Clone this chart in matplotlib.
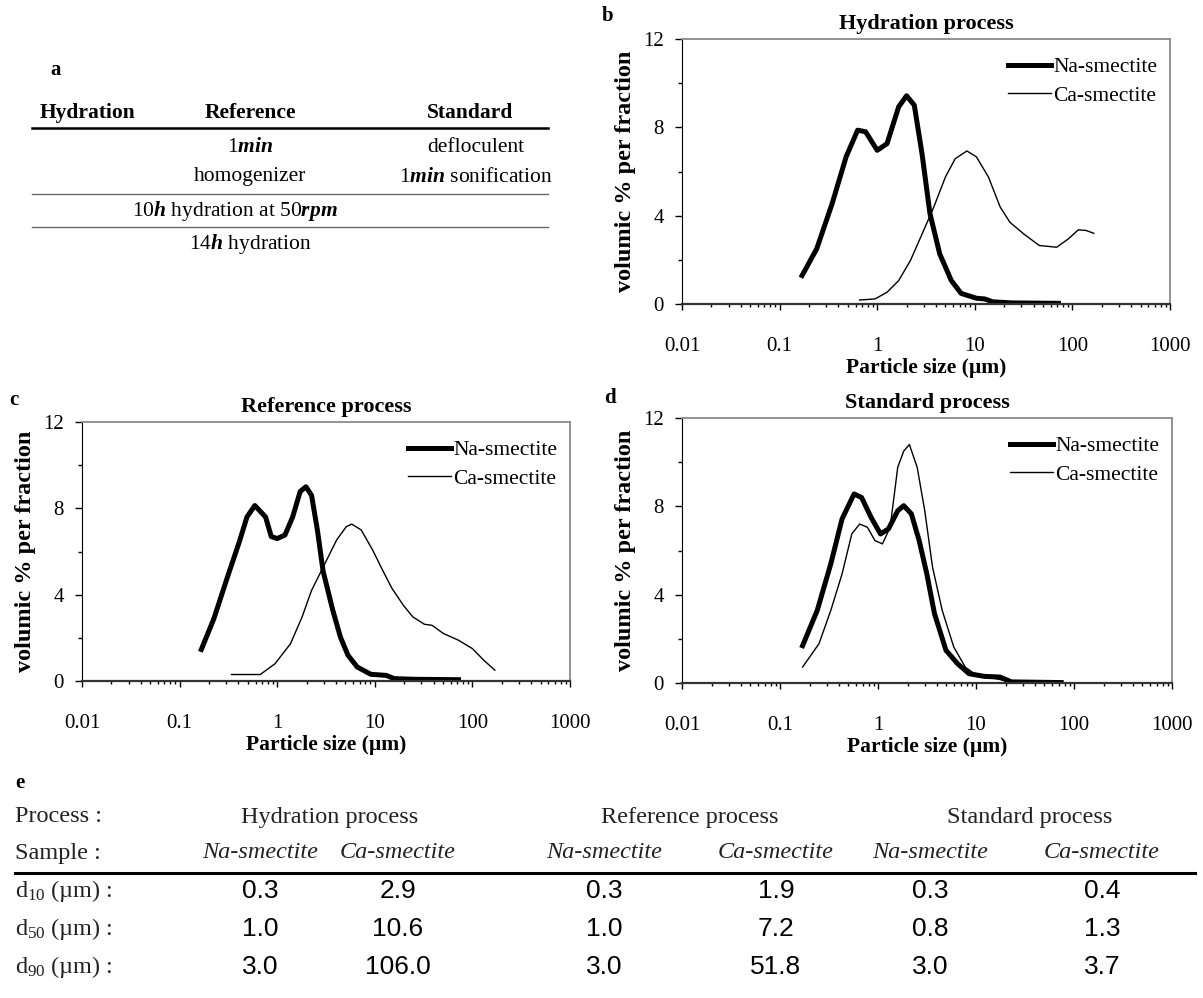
import matplotlib
matplotlib.use("Agg")
import matplotlib.pyplot as plt
from matplotlib.lines import Line2D
from matplotlib.ticker import LogLocator, FuncFormatter, MultipleLocator, NullFormatter

plt.rcParams['font.family'] = 'Liberation Serif'
plt.rcParams['mathtext.fontset'] = 'custom'
plt.rcParams['mathtext.rm'] = 'Liberation Serif'
plt.rcParams['mathtext.it'] = 'Liberation Serif:italic'
plt.rcParams['mathtext.bf'] = 'Liberation Serif:italic:bold'

# panel b - hydration process
b_na_x = [0.17, 0.24, 0.345, 0.48, 0.63, 0.76, 1.0, 1.26, 1.66, 2.0, 2.4, 2.88,
          3.47, 4.37, 5.75, 7.24, 10.4, 12.6, 15.2, 24, 72]
b_na_y = [1.29, 2.5, 4.54, 6.66, 7.87, 7.8, 6.96, 7.26, 8.93, 9.43, 9.0, 6.8,
          4.1, 2.27, 1.06, 0.48, 0.26, 0.23, 0.1, 0.05, 0.03]
b_ca_x = [0.66, 0.95, 1.26, 1.66, 2.19, 2.89, 3.8, 5.0, 6.3, 8.3, 10.4, 13.8,
          18.2, 22.9, 31.6, 45.7, 69, 91, 115, 138, 166]
b_ca_y = [0.18, 0.23, 0.53, 1.06, 1.97, 3.18, 4.39, 5.75, 6.58, 6.93, 6.66, 5.75,
          4.39, 3.7, 3.18, 2.65, 2.57, 2.95, 3.36, 3.33, 3.2]

# panel c - reference process
c_na_x = [0.167, 0.225, 0.31, 0.41, 0.49, 0.59, 0.76, 0.87, 1.0, 1.2, 1.44, 1.72,
          1.97, 2.25, 2.58, 2.95, 3.7, 4.44, 5.3, 6.6, 9.1, 13.1, 15.8, 24.6, 72]
c_na_y = [1.46, 2.9, 4.83, 6.46, 7.6, 8.13, 7.6, 6.69, 6.6, 6.76, 7.6, 8.78,
          9.0, 8.6, 7.0, 5.1, 3.3, 2.04, 1.2, 0.65, 0.31, 0.26, 0.11, 0.08, 0.06]
c_ca_x = [0.34, 0.67, 0.95, 1.37, 1.8, 2.25, 3.09, 4.06, 5.1, 5.8, 7.25, 9.5,
          12, 15, 19.6, 24.5, 32.2, 38.6, 50.5, 72, 100, 131, 170]
c_ca_y = [0.3, 0.3, 0.8, 1.73, 2.97, 4.2, 5.45, 6.53, 7.15, 7.27, 7.0, 6.07,
          5.14, 4.29, 3.51, 2.97, 2.63, 2.58, 2.2, 1.89, 1.5, 0.96, 0.5]

# panel d - standard process
d_na_x = [0.17, 0.24, 0.33, 0.43, 0.57, 0.68, 0.85, 1.06, 1.28, 1.59, 1.83, 2.19,
          2.63, 3.15, 3.77, 4.94, 6.5, 8.5, 12.2, 17.5, 23, 74]
d_na_y = [1.69, 3.29, 5.4, 7.43, 8.56, 8.4, 7.5, 6.75, 6.98, 7.8, 8.03, 7.66,
          6.45, 4.94, 3.14, 1.48, 0.87, 0.42, 0.3, 0.27, 0.05, 0.02]
d_ca_x = [0.17, 0.25, 0.33, 0.43, 0.54, 0.65, 0.78, 0.93, 1.11, 1.33, 1.59, 1.83,
          2.09, 2.51, 3.0, 3.6, 4.52, 5.93, 7.77, 10.1, 15.8, 23, 74]
d_ca_y = [0.72, 1.78, 3.29, 4.94, 6.75, 7.2, 7.05, 6.45, 6.3, 7.05, 9.77, 10.5,
          10.8, 9.77, 7.8, 5.25, 3.29, 1.63, 0.72, 0.35, 0.2, 0.05, 0.02]

series_names = ['Na-smectite', 'Ca-smectite']
titles = ['Hydration process', 'Reference process', 'Standard process']

# panel e - table
e_processes = titles
e_samples = ['Na-smectite', 'Ca-smectite'] * 3
e_rows = ['d$_{\\mathrm{10}}$ (µm) :', 'd$_{\\mathrm{50}}$ (µm) :', 'd$_{\\mathrm{90}}$ (µm) :']
e_d10 = ['0.3', '2.9', '0.3', '1.9', '0.3', '0.4']
e_d50 = ['1.0', '10.6', '1.0', '7.2', '0.8', '1.3']
e_d90 = ['3.0', '106.0', '3.0', '51.8', '3.0', '3.7']

W, H = 1203, 998


def fx(x):
    return x / W


def fy(y):
    return 1 - y / H


def box(left, top, right, bottom):
    return [fx(left), fy(bottom), (right - left) / W, (bottom - top) / H]


def draw_panel(ax, title, na_x, na_y, ca_x, ca_y):
    ax.plot(na_x, na_y, color='black', lw=3.6, label=series_names[0])
    ax.plot(ca_x, ca_y, color='black', lw=1.0, label=series_names[1])
    ax.set_xscale('log')
    ax.set_xlim(0.01, 1000)
    ax.set_ylim(0, 12)
    ax.set_yticks([0, 4, 8, 12])
    ax.yaxis.set_minor_locator(MultipleLocator(2))
    ax.xaxis.set_major_locator(LogLocator(base=10, numticks=10))
    ax.xaxis.set_minor_locator(LogLocator(base=10, subs=range(2, 10), numticks=60))
    ax.xaxis.set_major_formatter(FuncFormatter(lambda v, p: f'{v:g}'))
    ax.xaxis.set_minor_formatter(NullFormatter())
    ax.tick_params(axis='both', which='major', labelsize=15, direction='out', width=1)
    ax.tick_params(axis='x', which='major', length=4, pad=20)
    ax.tick_params(axis='x', which='minor', length=2.5, width=1)
    ax.tick_params(axis='y', which='major', length=5, pad=8)
    ax.tick_params(axis='y', which='minor', length=3, width=1)
    for s in ['top', 'right']:
        ax.spines[s].set_color('#8a8a8a')
        ax.spines[s].set_linewidth(1.3)
    ax.spines['left'].set_color('black')
    ax.spines['bottom'].set_color('#333333')
    ax.spines['bottom'].set_linewidth(1.6)
    ax.set_title(title, fontsize=16, fontweight='bold', pad=7)
    ax.set_xlabel('Particle size (µm)', fontsize=15.5, fontweight='bold', labelpad=1)
    ax.set_ylabel('volumic % per fraction', fontsize=17.5, fontweight='bold', labelpad=5)
    ax.legend(loc='upper right', bbox_to_anchor=(1.0, 0.98), frameon=False, fontsize=15.5,
              handlelength=2.0, handletextpad=0.1, labelspacing=0.4, borderaxespad=0.2)


fig = plt.figure(figsize=(12.03, 9.98), dpi=100)

ax_b = fig.add_axes(box(682, 39, 1170, 304))
draw_panel(ax_b, titles[0], b_na_x, b_na_y, b_ca_x, b_ca_y)
ax_c = fig.add_axes(box(82, 422, 570, 681))
draw_panel(ax_c, titles[1], c_na_x, c_na_y, c_ca_x, c_ca_y)
ax_d = fig.add_axes(box(682, 418, 1172, 683))
draw_panel(ax_d, titles[2], d_na_x, d_na_y, d_ca_x, d_ca_y)

fig.text(fx(608), fy(16), 'b', fontsize=15, fontweight='bold', ha='center', va='center')
fig.text(fx(14), fy(400), 'c', fontsize=15, fontweight='bold', ha='center', va='center')
fig.text(fx(610), fy(398), 'd', fontsize=15, fontweight='bold', ha='center', va='center')

# panel a - process table
fig.text(fx(56), fy(70), 'a', fontsize=15, fontweight='bold', ha='center', va='center')
head_y = 113
fig.text(fx(88), fy(head_y), 'Hydration', fontsize=15.5, fontweight='bold', ha='center', va='center')
fig.text(fx(250), fy(head_y), 'Reference', fontsize=15.5, fontweight='bold', ha='center', va='center')
fig.text(fx(470), fy(head_y), 'Standard', fontsize=15.5, fontweight='bold', ha='center', va='center')
fig.add_artist(Line2D([fx(32), fx(548)], [fy(128), fy(128)], color='black', lw=1.8))
fig.text(fx(250), fy(147), '1$\\mathbf{min}$', fontsize=15.5, ha='center', va='center')
fig.text(fx(476), fy(147), 'defloculent', fontsize=15.5, ha='center', va='center')
fig.text(fx(250), fy(177), 'homogenizer', fontsize=15.5, ha='center', va='center')
fig.text(fx(476), fy(177), '1$\\mathbf{min}$ sonification', fontsize=15.5, ha='center', va='center')
fig.add_artist(Line2D([fx(32), fx(548)], [fy(194), fy(194)], color='#666666', lw=1.0))
fig.text(fx(235), fy(211), '10$\\mathbf{h}$ hydration at 50$\\mathbf{rpm}$', fontsize=15.5,
         ha='center', va='center')
fig.add_artist(Line2D([fx(32), fx(548)], [fy(227), fy(227)], color='#666666', lw=1.0))
fig.text(fx(250), fy(244), '14$\\mathbf{h}$ hydration', fontsize=15.5, ha='center', va='center')

# panel e - grain size table
fig.text(fx(20), fy(783), 'e', fontsize=15, fontweight='bold', ha='center', va='center')
col_x = [260, 398, 604, 776, 930, 1102]
proc_x = [330, 690, 1030]
lab_fs = 17.5
fig.text(fx(15), fy(817), 'Process :', fontsize=lab_fs, ha='left', va='center', color='#222222')
fig.text(fx(15), fy(853), 'Sample :', fontsize=lab_fs, ha='left', va='center', color='#222222')
for px, name in zip(proc_x, e_processes):
    fig.text(fx(px), fy(817), name, fontsize=lab_fs, ha='center', va='center', color='#222222')
for cx, name in zip(col_x, e_samples):
    fig.text(fx(cx), fy(853), name, fontsize=lab_fs, style='italic', ha='center', va='center',
             color='#222222')
fig.add_artist(Line2D([fx(15), fx(1195)], [fy(873), fy(873)], color='black', lw=2.2))
row_y = [891, 929, 967]
for ry, label, vals in zip(row_y, e_rows, [e_d10, e_d50, e_d90]):
    fig.text(fx(15), fy(ry), label, fontsize=lab_fs, ha='left', va='center', color='#222222')
    for cx, v in zip(col_x, vals):
        fig.text(fx(cx), fy(ry), v, fontsize=19, family='Liberation Sans', ha='center', va='center')

fig.savefig('out.png', dpi=100)
